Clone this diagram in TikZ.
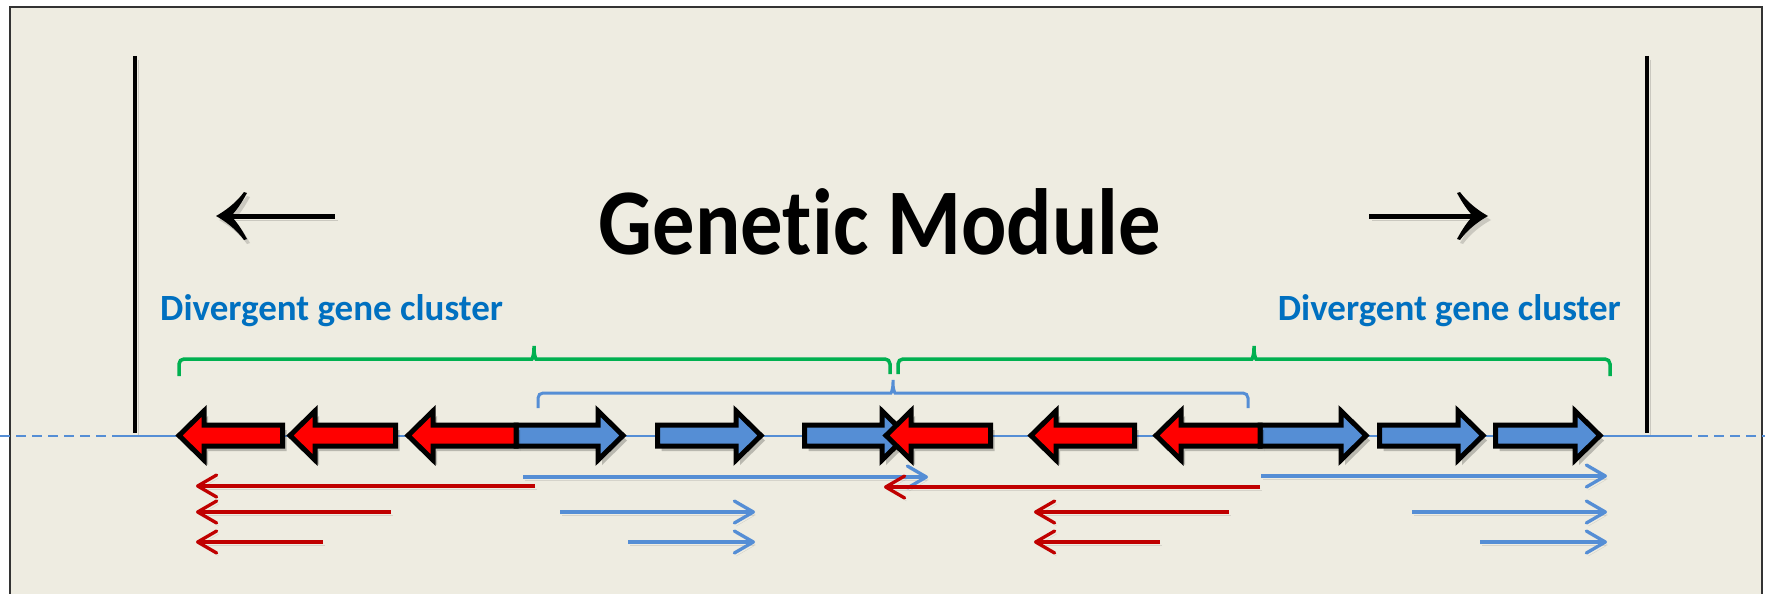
\documentclass[tikz,border=0pt]{standalone}
\usepackage{fontspec}
\setmainfont{Carlito}[Ligatures=NoCommon]
\newfontfamily\titlefont{Carlito}[Ligatures=NoCommon, BoldFont={* Bold}, FakeStretch=0.9]
\usetikzlibrary{arrows.meta}
\definecolor{bgtan}{HTML}{EEECE1}
\definecolor{geneblue}{HTML}{558ED5}
\definecolor{thinblue}{HTML}{558ED5}
\definecolor{genered}{HTML}{FF0000}
\definecolor{thinred}{HTML}{C00000}
\definecolor{bracegreen}{HTML}{00B050}
\definecolor{labelblue}{HTML}{0070C0}
\tikzset{
  shadowed/.style={preaction={draw=black, opacity=0.15, transform canvas={shift={(3pt,-4pt)}}}},
  softshadow/.style={preaction={draw=black, opacity=0.1, transform canvas={shift={(2pt,-3pt)}}}},
  geneshape/.style={draw=black, line width=5pt, line join=miter,
     preaction={fill=black, opacity=0.22, transform canvas={shift={(4pt,-5pt)}}}},
  rtx/.style={draw=thinblue, line width=3.3pt, softshadow, -{Straight Barb[length=19pt,width=22pt,round]}},
  ltx/.style={draw=thinred, line width=3.3pt, softshadow, -{Straight Barb[length=19pt,width=22pt,round]}},
  bigshaft/.style={draw=black, line width=5pt, shadowed},
  bighead/.style={fill=black, preaction={fill=black, opacity=0.15, transform canvas={shift={(3pt,-4pt)}}}},
  border/.style={draw=black, line width=4pt, shadowed},
  gbrace/.style={draw=bracegreen, line width=3.5pt, rounded corners=5pt},
  bbrace/.style={draw=geneblue, line width=3pt, rounded corners=5pt},
  dgc/.style={font=\bfseries\fontsize{37}{37}\selectfont, text=labelblue, inner sep=0pt},
  dna/.style={draw=geneblue, line width=2pt},
}
% right-pointing gene: fill, start, tip
\newcommand\generight[3]{%
  \draw[geneshape, fill=#1] (#2,425) -- (#3-25,425) -- (#3-25,411) -- (#3,435.5)
     -- (#3-25,460) -- (#3-25,446) -- (#2,446) -- cycle;}
% left-pointing gene: fill, tip, end
\newcommand\geneleft[3]{%
  \draw[geneshape, fill=#1] (#3,425) -- (#2+25,425) -- (#2+25,411) -- (#2,435.5)
     -- (#2+25,460) -- (#2+25,446) -- (#3,446) -- cycle;}
% curved barbed head, tip at origin, pointing +x
\newcommand\barbhead{%
  \fill[bighead] (1,0) .. controls (-8,-5) and (-19,-13) .. (-27,-24)
     -- (-30,-23) .. controls (-24,-12) and (-19,-5) .. (-14,0)
     .. controls (-19,5) and (-24,12) .. (-30,23)
     -- (-27,24) .. controls (-19,13) and (-8,5) .. (1,0) -- cycle;}
\begin{document}
\begin{tikzpicture}[x=1pt,y=-1pt]
\useasboundingbox (0,0) rectangle (1765,594);
\clip (0,0) rectangle (1765,594);
\fill[white] (0,0) rectangle (1765,594);
\draw[fill=bgtan, draw=black!80, line width=2pt] (10,7) rectangle (1762,610);

% module borders
\coordinate (lt) at (135,56); \coordinate (lb) at (135,433);
\coordinate (rt) at (1647,56); \coordinate (rb) at (1647,433);
\draw[border] (lt) -- (lb);
\draw[border] (rt) -- (rb);

% title and direction arrows
\node[font=\titlefont\bfseries\fontsize{94}{94}\selectfont, anchor=base, inner sep=0pt] (title) at (880,254) {Genetic Module};
\coordinate (la1) at (335,216); \coordinate (la2) at (230,216);
\coordinate (ra1) at (1369,216); \coordinate (ra2) at (1474,216);
\draw[bigshaft] (la1) -- (la2);
\draw[bigshaft] (ra1) -- (ra2);
\begin{scope}[shift={(217,216)}, xscale=-1]\barbhead\end{scope}
\begin{scope}[shift={(1487,216)}]\barbhead\end{scope}

% labels
\node[dgc, anchor=base west] (dgcL) at (160,320) {Divergent gene cluster};
\node[dgc, anchor=base east] (dgcR) at (1621,320) {Divergent gene cluster};

% green braces
\draw[gbrace] (179,376) -- (179,359) -- (527,359) .. controls (532,359) and (534,356) .. (534,343)
   .. controls (534,356) and (536,359) .. (541,359) -- (890,359) -- (890,374);
\draw[gbrace] (898,374) -- (898,359) -- (1247,359) .. controls (1252,359) and (1254,356) .. (1254,343)
   .. controls (1254,356) and (1256,359) .. (1261,359) -- (1610,359) -- (1610,376);
% blue brace
\draw[bbrace] (538,408) -- (538,393) -- (886,393) .. controls (891,393) and (893,390) .. (893,377)
   .. controls (893,390) and (895,393) .. (900,393) -- (1248,393) -- (1248,408);

% DNA line
\coordinate (d0) at (0,436); \coordinate (d1) at (120,436);
\coordinate (d2) at (1682,436); \coordinate (d3) at (1765,436);
\draw[dna, dash pattern=on 10pt off 6pt] (d0) -- (d1);
\draw[dna] (d1) -- (d2);
\draw[dna, dash pattern=on 10pt off 6pt] (d2) -- (d3);

% genes
\geneleft{genered}{179}{282.5}
\geneleft{genered}{290}{395.5}
\generight{geneblue}{516}{623}
\geneleft{genered}{408}{516}
\generight{geneblue}{657.5}{761}
\generight{geneblue}{804.5}{907}
\geneleft{genered}{886}{990.5}
\geneleft{genered}{1031}{1134.5}
\generight{geneblue}{1260}{1366}
\geneleft{genered}{1156}{1260}
\generight{geneblue}{1379.5}{1483}
\generight{geneblue}{1495.5}{1600}

% transcripts
\coordinate (r1s) at (535,486); \coordinate (r1e) at (196,486);
\coordinate (r2s) at (391,512); \coordinate (r2e) at (196,512);
\coordinate (r3s) at (323,542); \coordinate (r3e) at (196,542);
\coordinate (r4s) at (1260,487); \coordinate (r4e) at (884,487);
\coordinate (r5s) at (1229,512); \coordinate (r5e) at (1034,512);
\coordinate (r6s) at (1160,542); \coordinate (r6e) at (1034,542);
\coordinate (b1s) at (523,477); \coordinate (b1e) at (928,477);
\coordinate (b2s) at (560,512); \coordinate (b2e) at (755,512);
\coordinate (b3s) at (628,542); \coordinate (b3e) at (755,542);
\coordinate (b4s) at (1261,476); \coordinate (b4e) at (1607,476);
\coordinate (b5s) at (1412,512); \coordinate (b5e) at (1607,512);
\coordinate (b6s) at (1480,542); \coordinate (b6e) at (1607,542);
\draw[rtx] (b1s) -- (b1e);
\draw[ltx] (r1s) -- (r1e);
\draw[ltx] (r2s) -- (r2e);
\draw[ltx] (r3s) -- (r3e);
\draw[ltx] (r4s) -- (r4e);
\draw[ltx] (r5s) -- (r5e);
\draw[ltx] (r6s) -- (r6e);
\draw[rtx] (b2s) -- (b2e);
\draw[rtx] (b3s) -- (b3e);
\draw[rtx] (b4s) -- (b4e);
\draw[rtx] (b5s) -- (b5e);
\draw[rtx] (b6s) -- (b6e);
\end{tikzpicture}
\end{document}
